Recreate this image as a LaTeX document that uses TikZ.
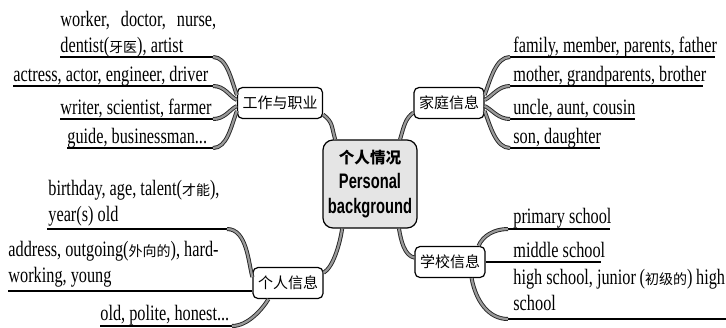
\documentclass[tikz,border=0pt]{standalone}
\usepackage{fontspec}
\setmainfont{Liberation Serif}[FakeStretch=0.74]
\newfontfamily\cjk{Noto Sans CJK SC}
\newfontfamily\hubsans{Liberation Sans}[FakeStretch=0.7]
\newcommand{\zhw}[1]{{\cjk\fontsize{7}{13}\selectfont #1}}
\tikzset{
 topic/.style={draw=black, line width=0.6pt, rounded corners=2.5pt, fill=white, inner xsep=2.5pt, inner ysep=0pt, minimum height=15.5pt, font=\cjk\fontsize{7.5}{9}\selectfont},
 hub/.style={draw=black, line width=0.6pt, rounded corners=5pt, fill=black!10, minimum width=47pt, minimum height=44pt, inner sep=0pt, align=center, font=\hubsans\bfseries\fontsize{10.5}{12.5}\selectfont},
 leaf/.style={anchor=base west, inner sep=0pt, align=left, font=\fontsize{11}{13}\selectfont},
 uline/.style={line width=0.6pt},
 branch/.style={draw=black!85, line width=0.45pt, double=black!40, double distance=1.1pt},
}
\begin{document}
\begin{tikzpicture}[x=0.5pt,y=-0.5pt]
\useasboundingbox (0,0) rectangle (726,327);
\node[hub] (hub) at (370,184) {{\cjk\fontsize{7.8}{12.5}\selectfont 个人情况}\\Personal\\background};
\node[topic] (job) at (280,103) {工作与职业};
\node[topic] (fam) at (449,103) {家庭信息};
\node[topic] (sch) at (450,262) {学校信息};
\node[topic] (per) at (288,283) {个人信息};
\draw[branch] (job.-15) .. controls +(10,8) and +(-4,-14) .. (hub.128);
\draw[branch] (fam.195) .. controls +(-8,6) and +(4,-14) .. (hub.56);
\draw[branch] (sch.173) .. controls +(-10,-2) and +(2,12) .. (hub.-57);
\draw[branch] (per.16) .. controls +(10,-6) and +(-2,14) .. (hub.238);
% jobs
\node[leaf] (job1) at (60,52) {worker,\enspace doctor,\enspace nurse,\\dentist(\zhw{牙医}), artist};
\node[leaf] (job2) at (13,81) {actress, actor, engineer, driver};
\node[leaf] (job3) at (60,114) {writer, scientist, farmer};
\node[leaf] (job4) at (67,143) {guide, businessman...};
\coordinate (j1s) at (60,57); \coordinate (j1e) at (213,57);
\coordinate (j2s) at (13,86); \coordinate (j2e) at (213,86);
\coordinate (j3s) at (60,119); \coordinate (j3e) at (213,119);
\coordinate (j4s) at (67,148); \coordinate (j4e) at (213,148);
\draw[uline] (j1s)--(j1e); \draw[uline] (j2s)--(j2e); \draw[uline] (j3s)--(j3e); \draw[uline] (j4s)--(j4e);
\draw[branch] (j1e) .. controls +(14,0) and +(-6,-16) .. ([yshift=4pt]job.west);
\draw[branch] (j2e) .. controls +(12,0) and +(-8,-4) .. ([yshift=1.5pt]job.west);
\draw[branch] (j3e) .. controls +(12,0) and +(-8,4) .. ([yshift=-1.5pt]job.west);
\draw[branch] (j4e) .. controls +(14,0) and +(-6,16) .. ([yshift=-4pt]job.west);
% family
\node[leaf] (fam1) at (513,52) {family, member, parents, father};
\node[leaf] (fam2) at (513,81) {mother, grandparents, brother};
\node[leaf] (fam3) at (513,114) {uncle, aunt, cousin};
\node[leaf] (fam4) at (513,143) {son, daughter};
\coordinate (f1s) at (510,57); \coordinate (f1e) at (715,57);
\coordinate (f2s) at (510,86); \coordinate (f2e) at (703,86);
\coordinate (f3s) at (510,119); \coordinate (f3e) at (635,119);
\coordinate (f4s) at (510,148); \coordinate (f4e) at (600,148);
\draw[uline] (f1s)--(f1e); \draw[uline] (f2s)--(f2e); \draw[uline] (f3s)--(f3e); \draw[uline] (f4s)--(f4e);
\draw[branch] ([yshift=4pt]fam.east) .. controls +(6,-16) and +(-14,0) .. (f1s);
\draw[branch] ([yshift=1.5pt]fam.east) .. controls +(8,-4) and +(-12,0) .. (f2s);
\draw[branch] ([yshift=-1.5pt]fam.east) .. controls +(8,4) and +(-12,0) .. (f3s);
\draw[branch] ([yshift=-4pt]fam.east) .. controls +(6,16) and +(-14,0) .. (f4s);
% school
\node[leaf] (sch1) at (513,223) {primary school};
\node[leaf] (sch2) at (513,257) {middle school};
\node[leaf] (sch3) at (513,310) {high school, junior\,(\zhw{初级的})\,high\\school};
\coordinate (s1s) at (508,229); \coordinate (s1e) at (610,229);
\coordinate (s2e) at (601,262);
\coordinate (s3s) at (508,319); \coordinate (s3e) at (726,319);
\draw[uline] (s1s)--(s1e); \draw[uline] (sch.east)--(s2e); \draw[uline] (s3s)--(s3e);
\draw[branch] ([xshift=-3.5pt]sch.north east) .. controls +(4,-10) and +(-14,0) .. (s1s);
\draw[branch] ([xshift=-7pt]sch.south east) .. controls +(4,22) and +(-20,0) .. (s3s);
% personal
\node[leaf] (per1) at (48,221) {birthday, age, talent(\zhw{才能}),\\year(s) old};
\node[leaf] (per2) at (8,282) {address, outgoing(\zhw{外向的}), hard-\\working, young};
\node[leaf] (per3) at (100,320) {old, polite, honest...};
\coordinate (p1s) at (47,229); \coordinate (p1e) at (227,229);
\coordinate (p2s) at (8,291);
\coordinate (p3s) at (100,326); \coordinate (p3e) at (232,326);
\draw[uline] (p1s)--(p1e); \draw[uline] (p2s)--(p2s-|per.west); \draw[uline] (p3s)--(p3e);
\draw[branch] (p1e) .. controls +(20,0) and +(-4,-14) .. ([yshift=3pt]per.west);
\draw[branch] (p3e) .. controls +(16,0) and +(-6,10) .. ([xshift=8pt]per.south west);
\end{tikzpicture}
\end{document}
